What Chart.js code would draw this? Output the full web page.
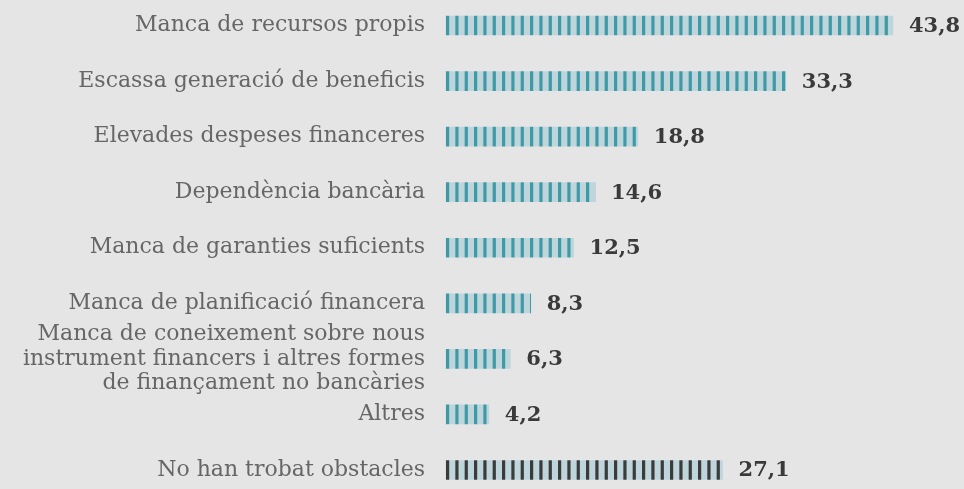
<!DOCTYPE html>
<html>
<head>
<meta charset="utf-8">
<script src="https://cdn.jsdelivr.net/npm/chart.js@4"></script>
<style>
  html, body { margin: 0; padding: 0; background: #e5e5e5; }
  #wrap { width: 964px; height: 489px; position: relative; }
</style>
</head>
<body>
<div id="wrap"><canvas id="chart1"></canvas></div>
<script>
// categories and values
const categories = [
  "Manca de recursos propis",
  "Escassa generació de beneficis",
  "Elevades despeses financeres",
  "Dependència bancària",
  "Manca de garanties suficients",
  "Manca de planificació financera",
  ["Manca de coneixement sobre nous", "instrument financers i altres formes", "de finançament no bancàries"],
  "Altres",
  "No han trobat obstacles"
];
const values = [43.8, 33.3, 18.8, 14.6, 12.5, 8.3, 6.3, 4.2, 27.1];

// stripe tile: 3 dark stripes per 28px
function makeStripes(dark, light) {
  const c = document.createElement("canvas");
  c.width = 28; c.height = 4;
  const g = c.getContext("2d");
  g.fillStyle = light;
  g.fillRect(0, 0, 28, 4);
  g.fillStyle = dark;
  for (let i = 0; i < 3; i++) g.fillRect(i * 28 / 3, 0, 3.2, 4);
  return g.createPattern(c, "repeat");
}

const tealStripes = makeStripes("#3f9aa6", "#bed5dc");
const darkStripes = makeStripes("#3b3b3b", "#bed5dc");

function stripeFor(ctx) {
  const p = ctx.dataIndex === values.length - 1 ? darkStripes : tealStripes;
  const left = ctx.chart.chartArea ? ctx.chart.chartArea.left : 0;
  p.setTransform(new DOMMatrix().translate(left, 0));
  return p;
}

const valueLabels = {
  id: "valueLabels",
  afterDatasetsDraw(chart) {
    const g = chart.ctx;
    const meta = chart.getDatasetMeta(0);
    g.save();
    g.font = "bold 21px 'DejaVu Serif'";
    g.fillStyle = "#3a3a3a";
    g.textBaseline = "middle";
    g.textAlign = "left";
    meta.data.forEach((bar, i) => {
      g.fillText(values[i].toFixed(1).replace(".", ","), bar.x + 16, bar.y + 1);
    });
    g.restore();
  }
};

document.addEventListener("DOMContentLoaded", function () {
  const ctx = document.getElementById("chart1");
  new Chart(ctx, {
    type: "bar",
    data: {
      labels: categories,
      datasets: [{
        data: values,
        backgroundColor: stripeFor,
        borderWidth: 0,
        barThickness: 19,
        clip: false
      }]
    },
    options: {
      indexAxis: "y",
      responsive: true,
      maintainAspectRatio: false,
      animation: false,
      layout: { padding: { top: 25.5, bottom: 19, left: 0, right: 18 } },
      plugins: { legend: { display: false }, tooltip: { enabled: false } },
      scales: {
        x: { display: false, min: 0, max: 49 },
        y: {
          offset: false,
          grid: { display: false },
          border: { display: false },
          afterFit(scale) {
            scale.width = 446;
            scale.paddingTop = 0;
            scale.paddingBottom = 0;
          },
          ticks: {
            autoSkip: false,
            color: "#666666",
            padding: 13,
            font: { family: "'DejaVu Serif'", size: 22, lineHeight: 1.13 }
          }
        }
      }
    },
    plugins: [valueLabels]
  });
});
</script>
</body>
</html>
